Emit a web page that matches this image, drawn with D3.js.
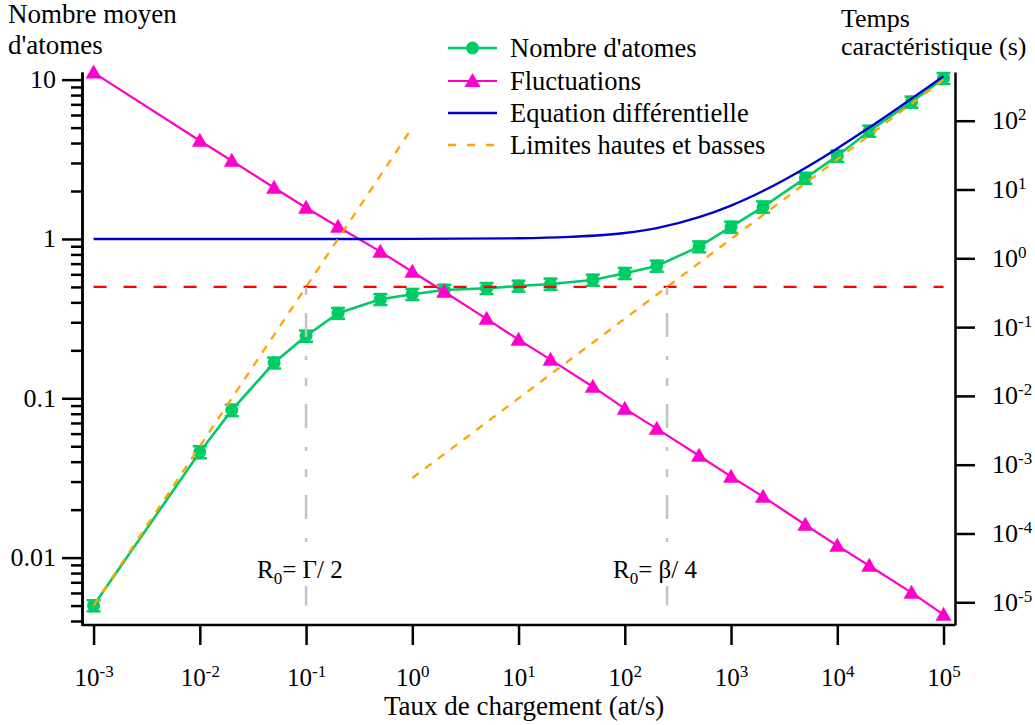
<!DOCTYPE html>
<html><head><meta charset="utf-8">
<script src="https://cdn.jsdelivr.net/npm/d3@7"></script>
<style>
body{margin:0;background:#fff;}
svg{display:block;}
svg text{font-family:"Liberation Serif","Times New Roman",serif;}
</style></head>
<body>
<svg id="chart" width="1035" height="725"></svg>
<script>
// ---- data ----
const rates = [1e-3,1e-2,2e-2,5e-2,0.1,0.2,0.5,1,2,5,10,20,50,100,200,500,1e3,2e3,5e3,1e4,2e4,5e4,1e5];
const atoms = [0.0050,0.046,0.0843,0.167,0.246,0.342,0.418,0.45,0.478,0.49,0.507,0.522,0.553,0.609,0.677,0.895,1.19,1.59,2.41,3.32,4.76,7.25,10.2];
const atomErr = [0.0004,0.004,0.007,0.013,0.02,0.027,0.033,0.036,0.038,0.039,0.04,0.042,0.044,0.049,0.054,0.07,0.095,0.13,0.19,0.27,0.38,0.58,0.8];
const fluct = [500,51.2,26.2,10.6,5.44,2.88,1.25,0.638,0.327,0.132,0.0656,0.0336,0.0136,0.00652,0.00334,0.00135,0.00067,0.000343,0.000134,6.65e-5,3.4e-5,1.38e-5,6.6e-6];
const diffX = [1e-3,1e-2,0.1,1,10,30,100,200,500,1e3,2e3,5e3,1e4,2e4,5e4,1e5];
const diffY = [1,1,1,1.001,1.01,1.03,1.09,1.17,1.37,1.62,2.0,2.79,3.7,5.0,7.6,10.5];
const lowLimX = [1e-3,1];
const lowLimY = [0.005,5];
const highLimX = [1,1e5];
const highLimY = [0.0316,10];
const threshold = 0.5;
const markerX = [0.1,250];
const markerY = [0.5,0.005];
const markerLabels = [["R","0","= Γ/ 2"],["R","0","= β/ 4"]];
const xTicks = [1e-3,1e-2,1e-1,1,10,100,1e3,1e4,1e5];
const leftMajor = [0.01,0.1,1,10];
const leftMajorLabels = ["0.01","0.1","1","10"];
const rightTicks = [1e-5,1e-4,1e-3,1e-2,1e-1,1,10,100];
const legendNames = ["Nombre d'atomes","Fluctuations","Equation différentielle","Limites hautes et basses"];

// ---- layout ----
const L=82,R=955,T=72,B=625;
const FONT="Liberation Serif, Times New Roman, serif";
const colGreen="#00cc66",colMag="#ff00cc",colBlue="#0000cc",colOrange="#ffa500",colRed="#ff0000",colGray="#c4c4c4";
const svg=d3.select("#chart");
svg.append("rect").attr("width",1035).attr("height",725).attr("fill","#fff");

const x=d3.scaleLog().domain([Math.pow(10,-3.109),Math.pow(10,5.108)]).range([L,R]);
const yL=d3.scaleLog().domain([Math.pow(10,-2.423),Math.pow(10,1.048)]).range([B,T]);
const yR=d3.scaleLog().domain([Math.pow(10,-5.330),Math.pow(10,2.708)]).range([B,T]);

const leftMinor=[];
[0.001,0.01,0.1,1].forEach(d=>{for(let k=2;k<=9;k++){const v=d*k; if(v>=yL.domain()[0]&&v<=yL.domain()[1]) leftMinor.push(v);}});

function styleAxis(g,size){
  g.attr("font-family",FONT).attr("font-size",size);
  g.selectAll("path,line").attr("stroke","#000").attr("stroke-width",2.5);
  g.selectAll("text").attr("fill","#000").attr("font-family",FONT).attr("font-size",size);
}
function expLabel(sel,anchor){
  sel.each(function(d){
    const e=Math.round(Math.log10(d));
    const t=d3.select(this); t.text(null).attr("text-anchor",anchor);
    t.append("tspan").text("10");
    t.append("tspan").attr("dy",-9).attr("font-size",17).text(String(e));
  });
}

// bottom axis
const gx=svg.append("g").attr("transform",`translate(0,${B})`)
  .call(d3.axisBottom(x).tickValues(xTicks).tickSize(20).tickSizeOuter(0).tickFormat(()=>""));
styleAxis(gx,25);
gx.selectAll(".tick text").attr("y",61).attr("dy",0).call(s=>expLabel(s,"middle"));
gx.select("path.domain").attr("d",`M${L},0H${R}`);

// left axis
const gyMinor=svg.append("g").attr("transform",`translate(${L},0)`)
  .call(d3.axisLeft(yL).tickValues(leftMinor).tickSize(11).tickSizeOuter(0).tickFormat(()=>""));
styleAxis(gyMinor,26);
const gy=svg.append("g").attr("transform",`translate(${L},0)`)
  .call(d3.axisLeft(yL).tickValues(leftMajor).tickSize(20).tickSizeOuter(0).tickFormat((d,i)=>leftMajorLabels[i]));
styleAxis(gy,26);
gy.selectAll(".tick text").attr("x",-26).attr("dy",0).attr("y",8);

// right axis
const gr=svg.append("g").attr("transform",`translate(${R},0)`)
  .call(d3.axisRight(yR).tickValues(rightTicks).tickSize(20).tickSizeOuter(0).tickFormat(()=>""));
styleAxis(gr,26);
gr.selectAll(".tick text").attr("x",37).attr("y",8).attr("dy",0).call(s=>expLabel(s,"start"));

// axis titles
const txt=(xx,yy,s,anchor="start",size=26)=>svg.append("text").attr("x",xx).attr("y",yy).attr("font-size",size).attr("font-family",FONT).attr("text-anchor",anchor).attr("fill","#000").text(s);
txt(8,23,"Nombre moyen",undefined,27);
txt(8,54,"d'atomes",undefined,27);
txt(841,27,"Temps");
txt(841,55,"caractéristique (s)");
txt(384,715,"Taux de chargement (at/s)",undefined,27);

const plot=svg.append("g");
const lineL=d3.line().x(d=>x(d[0])).y(d=>yL(d[1]));

// green data
plot.append("path").datum(d3.zip(rates,atoms)).attr("d",lineL).attr("fill","none").attr("stroke",colGreen).attr("stroke-width",2.6);
const eb=plot.append("g").attr("stroke",colGreen).attr("stroke-width",2.5);
rates.forEach((r,i)=>{
  const cx=x(r),y1=yL(atoms[i]-atomErr[i]),y2=yL(atoms[i]+atomErr[i]);
  eb.append("line").attr("x1",cx).attr("x2",cx).attr("y1",y1).attr("y2",y2);
  eb.append("line").attr("x1",cx-7).attr("x2",cx+7).attr("y1",y1).attr("y2",y1);
  eb.append("line").attr("x1",cx-7).attr("x2",cx+7).attr("y1",y2).attr("y2",y2);
});
plot.append("g").selectAll("circle").data(d3.zip(rates,atoms)).join("circle")
  .attr("cx",d=>x(d[0])).attr("cy",d=>yL(d[1])).attr("r",6.5).attr("fill",colGreen);

// magenta
const lineR=d3.line().x(d=>x(d[0])).y(d=>yR(d[1]));
plot.append("path").datum(d3.zip(rates,fluct)).attr("d",lineR).attr("fill","none").attr("stroke",colMag).attr("stroke-width",2.2);
const tri="M0,-8L8,6L-8,6Z";
plot.append("g").selectAll("path").data(d3.zip(rates,fluct)).join("path")
  .attr("d",tri).attr("transform",d=>`translate(${x(d[0])},${yR(d[1])})`).attr("fill",colMag);

// blue
plot.append("path").datum(d3.zip(diffX,diffY)).attr("d",d3.line().x(d=>x(d[0])).y(d=>yL(d[1])).curve(d3.curveMonotoneX))
  .attr("fill","none").attr("stroke",colBlue).attr("stroke-width",2.4);

// orange
[[lowLimX,lowLimY],[highLimX,highLimY]].forEach(([xs,ys])=>{
  plot.append("path").datum(d3.zip(xs,ys)).attr("d",lineL).attr("fill","none").attr("stroke",colOrange).attr("stroke-width",2.3).attr("stroke-dasharray","8,8");
});

// red threshold
plot.append("line").attr("x1",x(rates[0])).attr("x2",x(rates[rates.length-1])).attr("y1",yL(threshold)).attr("y2",yL(threshold))
  .attr("stroke",colRed).attr("stroke-width",2.3).attr("stroke-dasharray","13,17");

// gray markers
markerX.forEach((mx,i)=>{
  plot.append("line").attr("x1",x(mx)).attr("x2",x(mx)).attr("y1",yL(markerY[0])).attr("y2",yL(markerY[1]))
    .attr("stroke",colGray).attr("stroke-width",2.5).attr("stroke-dasharray","8,18,24,19,4,18");
});
const labPos=[[257,578],[613,578]];
markerLabels.forEach((lb,i)=>{
  const t=svg.append("text").attr("x",labPos[i][0]).attr("y",labPos[i][1]).attr("font-size",25).attr("font-family",FONT).attr("fill","#000");
  t.append("tspan").text(lb[0]);
  t.append("tspan").attr("dy",6).attr("font-size",17).text(lb[1]);
  t.append("tspan").attr("dy",-6).text(lb[2]);
});

// legend
const lg=svg.append("g");
const rowsY=[48,81,113,145];
const lx1=448,lx2=497,ltx=510;
lg.append("line").attr("x1",lx1).attr("x2",lx2).attr("y1",rowsY[0]).attr("y2",rowsY[0]).attr("stroke",colGreen).attr("stroke-width",2.6);
lg.append("circle").attr("cx",(lx1+lx2)/2).attr("cy",rowsY[0]).attr("r",6.5).attr("fill",colGreen);
lg.append("line").attr("x1",lx1).attr("x2",lx2).attr("y1",rowsY[1]).attr("y2",rowsY[1]).attr("stroke",colMag).attr("stroke-width",2.2);
lg.append("path").attr("d",tri).attr("transform",`translate(${(lx1+lx2)/2},${rowsY[1]})`).attr("fill",colMag);
lg.append("line").attr("x1",lx1).attr("x2",lx2).attr("y1",rowsY[2]).attr("y2",rowsY[2]).attr("stroke",colBlue).attr("stroke-width",2.4);
lg.append("line").attr("x1",lx1).attr("x2",lx2).attr("y1",rowsY[3]).attr("y2",rowsY[3]).attr("stroke",colOrange).attr("stroke-width",2.3).attr("stroke-dasharray","8,11");
legendNames.forEach((n,i)=>{
  lg.append("text").attr("x",ltx).attr("y",rowsY[i]+9).attr("font-size",26.5).attr("font-family",FONT).attr("fill","#000").text(n);
});
</script>
</body></html>
